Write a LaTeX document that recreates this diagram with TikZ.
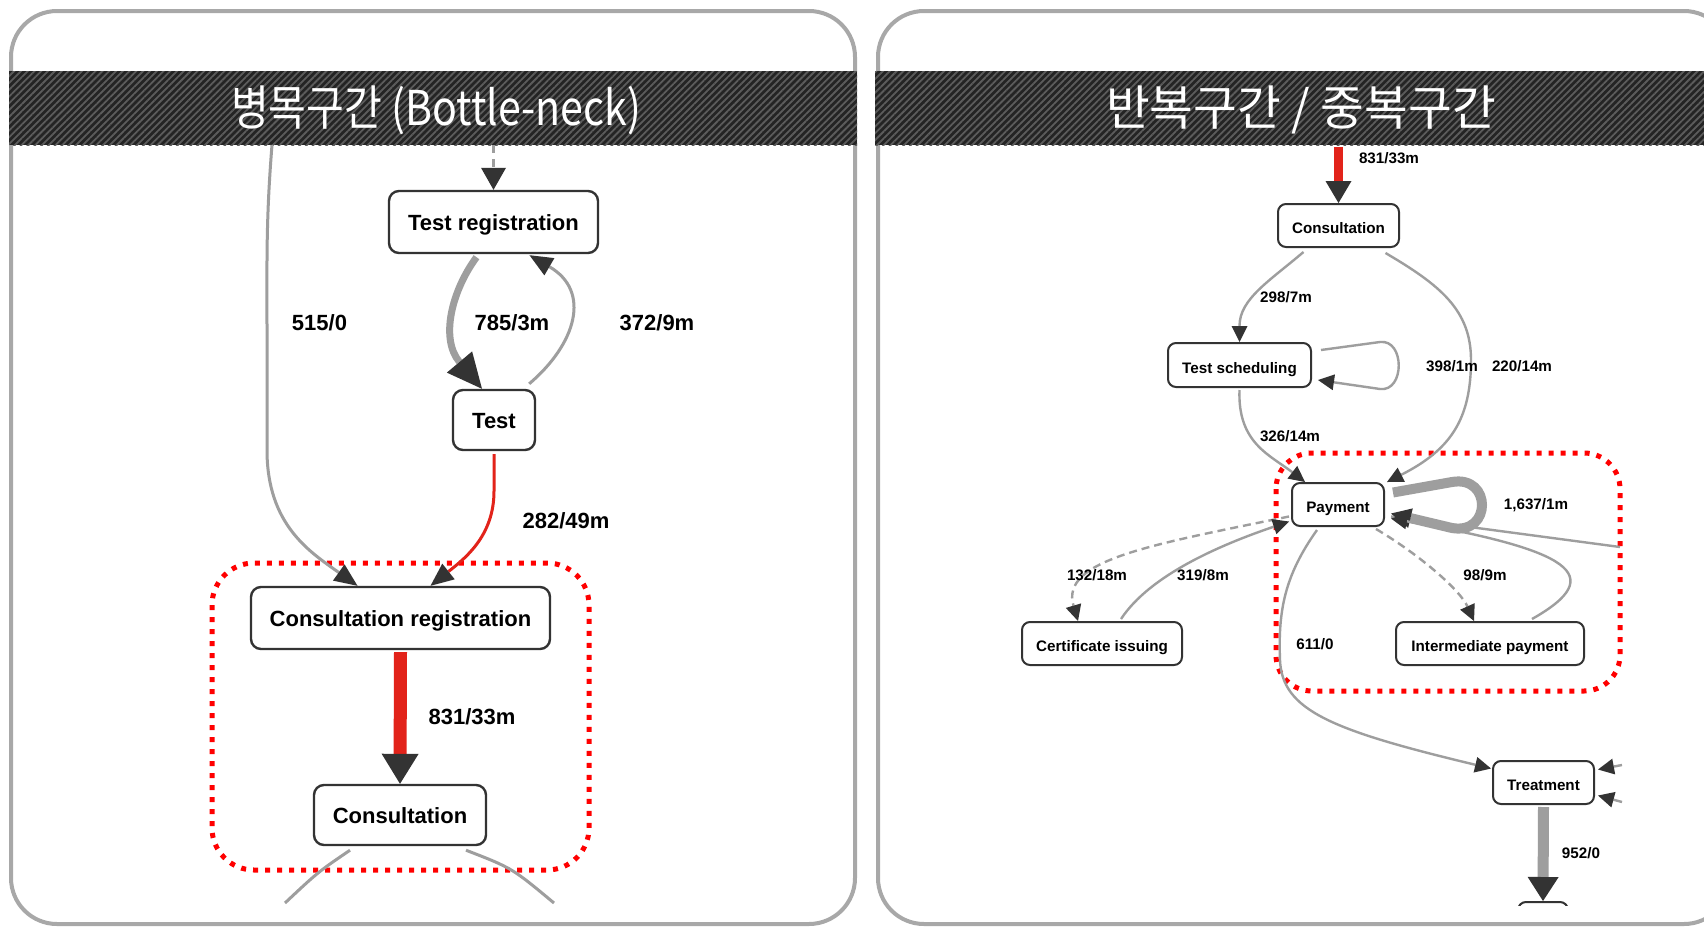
\documentclass[tikz,border=0pt]{standalone}
\usepackage{graphicx}
\usepackage{fontspec}
\setmainfont{Liberation Sans}
\newfontfamily\krfont{Noto Sans CJK KR}
\usetikzlibrary{arrows.meta,calc,patterns.meta}
\definecolor{edgegray}{HTML}{9E9E9E}
\definecolor{arrowc}{HTML}{333333}
\definecolor{nodeborder}{HTML}{333333}
\definecolor{edgered}{HTML}{E2231A}
\definecolor{hotred}{HTML}{FF0000}
\definecolor{panelgray}{HTML}{A8A8A8}
\definecolor{bandfill}{HTML}{242424}
\definecolor{bandline}{HTML}{5C5C5C}
\pgfdeclarelayer{bg}
\pgfsetlayers{bg,main}
\begin{document}
\begin{tikzpicture}[x=0.5pt,y=-0.5pt,
  panel/.style={draw=panelgray, line width=2pt, rounded corners=23pt, fill=white},
  lnode/.style={draw=nodeborder, line width=1.2pt, rounded corners=5pt, fill=white, inner sep=0pt, text height=0.95em, text depth=0.08em, font=\fontsize{11}{13}\selectfont\bfseries},
  rnode/.style={draw=nodeborder, line width=1pt, rounded corners=4pt, fill=white, inner sep=0pt, text height=0.9em, text depth=0.08em, font=\fontsize{7.6}{9}\selectfont\bfseries},
  llab/.style={inner sep=0pt, font=\fontsize{11}{13}\selectfont\bfseries},
  rlab/.style={inner sep=0pt, font=\fontsize{7.6}{9}\selectfont\bfseries},
  titletext/.style={text=white, inner sep=0pt, font=\krfont\fontsize{24}{28}\selectfont},
  hotspot/.style={draw=hotred, line width=2.5pt, dash pattern=on 2.5pt off 3.5pt},
  lthin/.style={draw=edgegray, line width=1.5pt, -{Triangle[length=11.5pt,width=10pt,color=arrowc,line width=0pt]}},
  lthick/.style={draw=edgegray, line width=3.5pt, -{Triangle[length=17.5pt,width=16.5pt,color=arrowc,line width=0pt]}},
  lred/.style={draw=edgered, line width=1.5pt, -{Triangle[length=11.5pt,width=10pt,color=arrowc,line width=0pt]}},
  lredthick/.style={draw=edgered, line width=6.5pt, -{Triangle[length=15pt,width=18.5pt,color=arrowc,line width=0pt]}},
  ldash/.style={draw=edgegray, line width=1.5pt, dash pattern=on 4pt off 3pt, -{Triangle[length=11pt,width=12.5pt,color=arrowc,line width=0pt]}},
  lplain/.style={draw=edgegray, line width=1.5pt},
  rthin/.style={draw=edgegray, line width=1.2pt, -{Triangle[length=8pt,width=8pt,color=arrowc,line width=0pt]}},
  rdash/.style={draw=edgegray, line width=1.2pt, dash pattern=on 4pt off 2.5pt, -{Triangle[length=8pt,width=8pt,color=arrowc,line width=0pt]}},
  rred/.style={draw=edgered, line width=4.5pt, -{Triangle[length=11pt,width=13pt,color=arrowc,line width=0pt]}},
  rthick/.style={draw=edgegray, line width=5.5pt, -{Triangle[length=12pt,width=15.5pt,color=arrowc,line width=0pt]}},
  rloop/.style={draw=edgegray, line width=5pt, -{Triangle[length=10pt,width=10pt,color=arrowc,line width=0pt]}},
  rplain/.style={draw=edgegray, line width=1.2pt}
]
\useasboundingbox (0,0) rectangle (1704,927);
\clip (0,0) rectangle (1704,927);

\begin{pgfonlayer}{bg}
  % two framed panels
  \draw[panel] (11,11) rectangle (855,924);
  \draw[panel] (878,11) rectangle (1730,924);
  % striped title bands
  \fill[bandfill] (9,71) rectangle (857,145);
  \fill[pattern={Lines[angle=45,distance=2.4pt,line width=0.9pt]}, pattern color=bandline] (9,71) rectangle (857,145);
  \fill[bandfill] (875,71) rectangle (1704,145);
  \fill[pattern={Lines[angle=45,distance=2.4pt,line width=0.9pt]}, pattern color=bandline] (875,71) rectangle (1704,145);
  % highlighted regions
  \draw[hotspot, rounded corners=21pt] (212,563) rectangle (589,870);
  \draw[hotspot, rounded corners=18pt] (1276,453) rectangle (1620,691);
\end{pgfonlayer}

% titles
\node[titletext] (title1) at (436,110) {\resizebox{205pt}{\height}{병목구간 (Bottle-neck)}};
\node[titletext] (title2) at (1301,110) {\resizebox{195pt}{\height}{반복구간 / 중복구간}};

% ---- bottle-neck graph ----
\node[lnode, minimum width=104.5pt, minimum height=31pt] (trg) at (493.5,222) {Test registration};
\node[lnode, minimum width=41pt, minimum height=30pt] (test) at (494,420) {Test};
\node[lnode, minimum width=149.5pt, minimum height=31pt] (creg) at (400.5,618) {Consultation registration};
\node[lnode, minimum width=86pt, minimum height=30pt] (cons) at (400,815) {Consultation};

\coordinate (lin1) at (493.5,145);
\coordinate (lin2) at (272,145);
\coordinate (lout1) at (285,903);
\coordinate (lout2) at (554,903);

\begin{pgfonlayer}{bg}
  \draw[ldash] (lin1) -- (trg.north);
  \draw[lthick] ($(trg.south)+(-17,3)$) .. controls ($(trg.south)+(-42,37)$) and ($(test.north)+(-54,-50)$) .. ($(test.north)+(-12,0)$);
  \draw[lthin] ($(test.north east)+(-7,-5)$) .. controls ($(test.north east)+(40,-45)$) and ($(trg.south)+(98,37)$) .. ($(trg.south)+(36,1)$);
  \draw[lthin] (lin2) .. controls (266,220) and (267,260) .. (267,330) -- (267,450) .. controls (267,525) and (310,552) .. ($(creg.north)+(-43,0)$);
  \draw[lred] ($(test.south)+(0,3)$) -- ($(test.south)+(0,40)$) .. controls ($(test.south)+(0,85)$) and ($(creg.north)+(64,-27)$) .. ($(creg.north)+(30,0)$);
  \draw[lredthick] ($(creg.south)+(0,2)$) -- (cons.north);
  \draw[lplain] ($(cons.south)+(-50,4)$) .. controls (318,872) .. (lout1);
  \draw[lplain] ($(cons.south)+(66,4)$) .. controls (512,868) .. (lout2);
\end{pgfonlayer}

\node[llab] (l515) at (319.5,323) {515/0};
\node[llab] (l785) at (512,323) {785/3m};
\node[llab] (l372) at (657,323) {372/9m};
\node[llab] (l282) at (566,521) {282/49m};
\node[llab] (l831) at (472,717) {831/33m};

% ---- repetition graph ----
\node[rnode, minimum width=60.5pt, minimum height=21.5pt] (rcons) at (1338.5,225.5) {Consultation};
\node[rnode, minimum width=71.5pt, minimum height=22pt] (tsched) at (1239.5,365) {Test scheduling};
\node[rnode, minimum width=46pt, minimum height=21.5pt] (pay) at (1338,504.5) {Payment};
\node[rnode, minimum width=80pt, minimum height=21.5pt] (cert) at (1102,643.5) {Certificate issuing};
\node[rnode, minimum width=94pt, minimum height=21.5pt] (inter) at (1490,643.5) {Intermediate payment};
\node[rnode, minimum width=50.5pt, minimum height=21.5pt] (treat) at (1543.5,782.5) {Treatment};
\begin{scope}
  \clip (1480,880) rectangle (1620,905);
  \node[rnode, minimum width=25pt, minimum height=25pt] (nextnode) at (1543,927) {};
\end{scope}

\coordinate (rin) at (1338.5,147);
\coordinate (rin2) at (1620,547);
\coordinate (rin3) at (1622,765);
\coordinate (rin4) at (1622,802);

\begin{pgfonlayer}{bg}
  \draw[rred] (rin) -- (rcons.north);
  \draw[rthin] ($(rcons.south)+(-35,4)$) .. controls ($(rcons.south)+(-69,33)$) and ($(tsched.north)+(0,-43)$) .. (tsched.north);
  \draw[rthin] ($(rcons.south)+(47,5)$) .. controls (1440,285) and (1471,310) .. (1471,360) .. controls (1471,420) and (1450,450) .. ($(pay.north east)+(2,0)$);
  \draw[rthin] ($(tsched.east)+(9,-15)$) -- (1380,342) .. controls (1405,339) and (1405,392) .. (1380,389) -- ($(tsched.east)+(6,15)$);
  \draw[rthin] ($(tsched.south)+(0,2)$) .. controls ($(tsched.south)+(-2,55)$) and (1270,455) .. ($(pay.north west)+(14,0)$);
  \draw[rplain] (rin2) -- ($(pay.east)+(6,12)$);
  \draw[rloop] ($(pay.east)+(8,-12)$) -- (1452,482) .. controls (1492,475) and (1492,535) .. (1452,528) -- ($(pay.east)+(6,9)$);
  \draw[rthin] ($(inter.north)+(42,-2)$) .. controls (1610,575) and (1570,550) .. ($(pay.east)+(6,14)$);
  \draw[rdash] ($(pay.south east)+(-9,2)$) .. controls (1420,555) and (1460,590) .. ($(inter.north)+(-16,0)$);
  \draw[rdash] ($(pay.west)+(-2,12)$) .. controls (1150,545) and (1060,560) .. ($(cert.north)+(-24,0)$);
  \draw[rthin] ($(cert.north)+(19,-2)$) .. controls (1150,575) and (1220,545) .. ($(pay.west)+(-2,17)$);
  \draw[rthin] ($(pay.south)+(-21,3)$) .. controls (1285,575) and (1278,610) .. (1280,660) .. controls (1282,710) and (1330,730) .. ($(treat.west)+(-1,-14)$);
  \draw[rthin] (rin3) -- ($(treat.east)+(3,-13)$);
  \draw[rthin] (rin4) -- ($(treat.east)+(3,13)$);
  \draw[rthick] ($(treat.south)+(0,2)$) -- (nextnode.north);
\end{pgfonlayer}

\node[rlab] (r831) at (1389,158) {831/33m};
\node[rlab] (r298) at (1286,297) {298/7m};
\node[rlab] (r398) at (1452,366) {398/1m};
\node[rlab] (r220) at (1522,366) {220/14m};
\node[rlab] (r326) at (1290,436) {326/14m};
\node[rlab] (r1637) at (1536,505) {1,637/1m};
\node[rlab] (r132) at (1097,575) {132/18m};
\node[rlab] (r319) at (1203,575) {319/8m};
\node[rlab] (r98) at (1485,575) {98/9m};
\node[rlab] (r611) at (1315,644) {611/0};
\node[rlab] (r952) at (1581,853) {952/0};
\end{tikzpicture}
\end{document}
